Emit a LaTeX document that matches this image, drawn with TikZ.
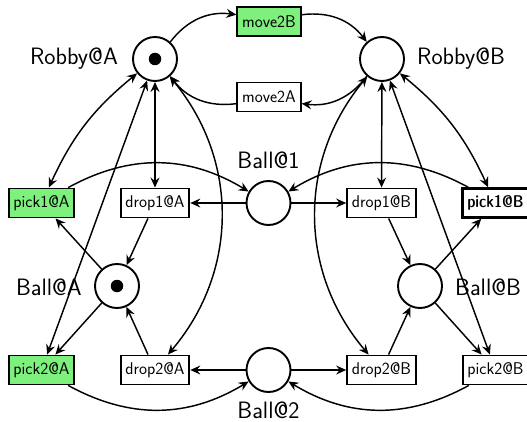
\documentclass[tikz,border=0pt]{standalone}
\usetikzlibrary{arrows.meta}
\definecolor{trgreen}{RGB}{125,240,125}
\begin{document}
\begin{tikzpicture}[x=1pt,y=1pt,
  place/.style={circle,draw,line width=1.9pt,minimum size=44pt,inner sep=0pt},
  trans/.style={rectangle,draw,line width=1.9pt,minimum height=29pt,inner sep=4.8pt,
    font=\sffamily\fontsize{17}{20}\selectfont},
  firedtr/.style={trans,fill=trgreen},
  plabel/.style={font=\sffamily\fontsize{23.7}{28}\selectfont,inner sep=0pt},
  tip/.style={},
  arc/.style={line width=1.45pt,-{Stealth[length=10pt,width=9pt,inset=3.5pt]}},
  biarc/.style={line width=1.45pt,{Stealth[length=10pt,width=9pt,inset=3.5pt]}-{Stealth[length=10pt,width=9pt,inset=3.5pt]}},
  token/.style={circle,fill=black,minimum size=12.5pt,inner sep=0pt}]
\useasboundingbox (0,0) rectangle (527,-422);
% places
\node[place] (RA) at (155,-59) {};
\node[place] (RB) at (382,-59) {};
\node[place] (B1) at (268.5,-203) {};
\node[place] (BA) at (117,-286) {};
\node[place] (BB) at (420,-286) {};
\node[place] (B2) at (268.5,-370) {};
\node[token] (tRA) at (RA) {};
\node[token] (tBA) at (BA) {};
% labels
\node[plabel,anchor=base east] (lRA) at (118,-65) {Robby@A};
\node[plabel,anchor=base west] (lRB) at (417,-65) {Robby@B};
\node[plabel,anchor=base] (lB1) at (268.5,-168) {Ball@1};
\node[plabel,anchor=base east] (lBA) at (82,-295) {Ball@A};
\node[plabel,anchor=base west] (lBB) at (455,-295) {Ball@B};
\node[plabel,anchor=base] (lB2) at (268.5,-418) {Ball@2};
% transitions
\node[firedtr] (m2B) at (269,-21.5) {move2B};
\node[trans] (m2A) at (269,-97) {move2A};
\node[firedtr] (p1A) at (41.5,-203) {pick1@A};
\node[trans] (d1A) at (155,-203) {drop1@A};
\node[trans] (d1B) at (381.5,-203) {drop1@B};
\node[trans,line width=2.5pt,font=\sffamily\fontsize{17}{20}\fontseries{sbc}\selectfont] (p1B) at (495.5,-203) {pick1@B};
\node[firedtr] (p2A) at (41.5,-370) {pick2@A};
\node[trans] (d2A) at (155,-370) {drop2@A};
\node[trans] (d2B) at (381.5,-370) {drop2@B};
\node[trans] (p2B) at (495.5,-370) {pick2@B};
% robby moves
\draw[arc] (RA) to[bend left=30] (m2B);
\draw[arc] (m2B) to[bend left=30] (RB);
\draw[arc] (RB) to[bend left=30] (m2A);
\draw[arc] (m2A) to[bend left=30] (RA);
% robby at A
\draw[biarc] (RA) to[bend right=13] (p1A);
\draw[biarc] (RA) -- (d1A);
\draw[biarc] (RA) -- (p2A);
\draw[biarc] (RA) to[bend left=40] (d2A);
% robby at B
\draw[biarc] (RB) to[bend left=13] (p1B);
\draw[biarc] (RB) -- (d1B);
\draw[biarc] (RB) -- (p2B);
\draw[biarc] (RB) to[bend right=40] (d2B);
% ball 1
\draw[arc] (p1A) to[bend left=30] (B1);
\draw[arc] (B1) -- (d1A);
\draw[arc] (B1) -- (d1B);
\draw[arc] (p1B) to[bend right=30] (B1);
% ball 2
\draw[arc] (p2A) to[bend right=30] (B2);
\draw[arc] (B2) -- (d2A);
\draw[arc] (B2) -- (d2B);
\draw[arc] (p2B) to[bend left=30] (B2);
% ball at A
\draw[arc] (BA) -- (p1A);
\draw[arc] (d1A) -- (BA);
\draw[arc] (BA) -- (p2A);
\draw[arc] (d2A) -- (BA);
% ball at B
\draw[arc] (d1B) -- (BB);
\draw[arc] (BB) -- (p1B);
\draw[arc] (BB) -- (p2B);
\draw[arc] (d2B) -- (BB);
\end{tikzpicture}
\end{document}
